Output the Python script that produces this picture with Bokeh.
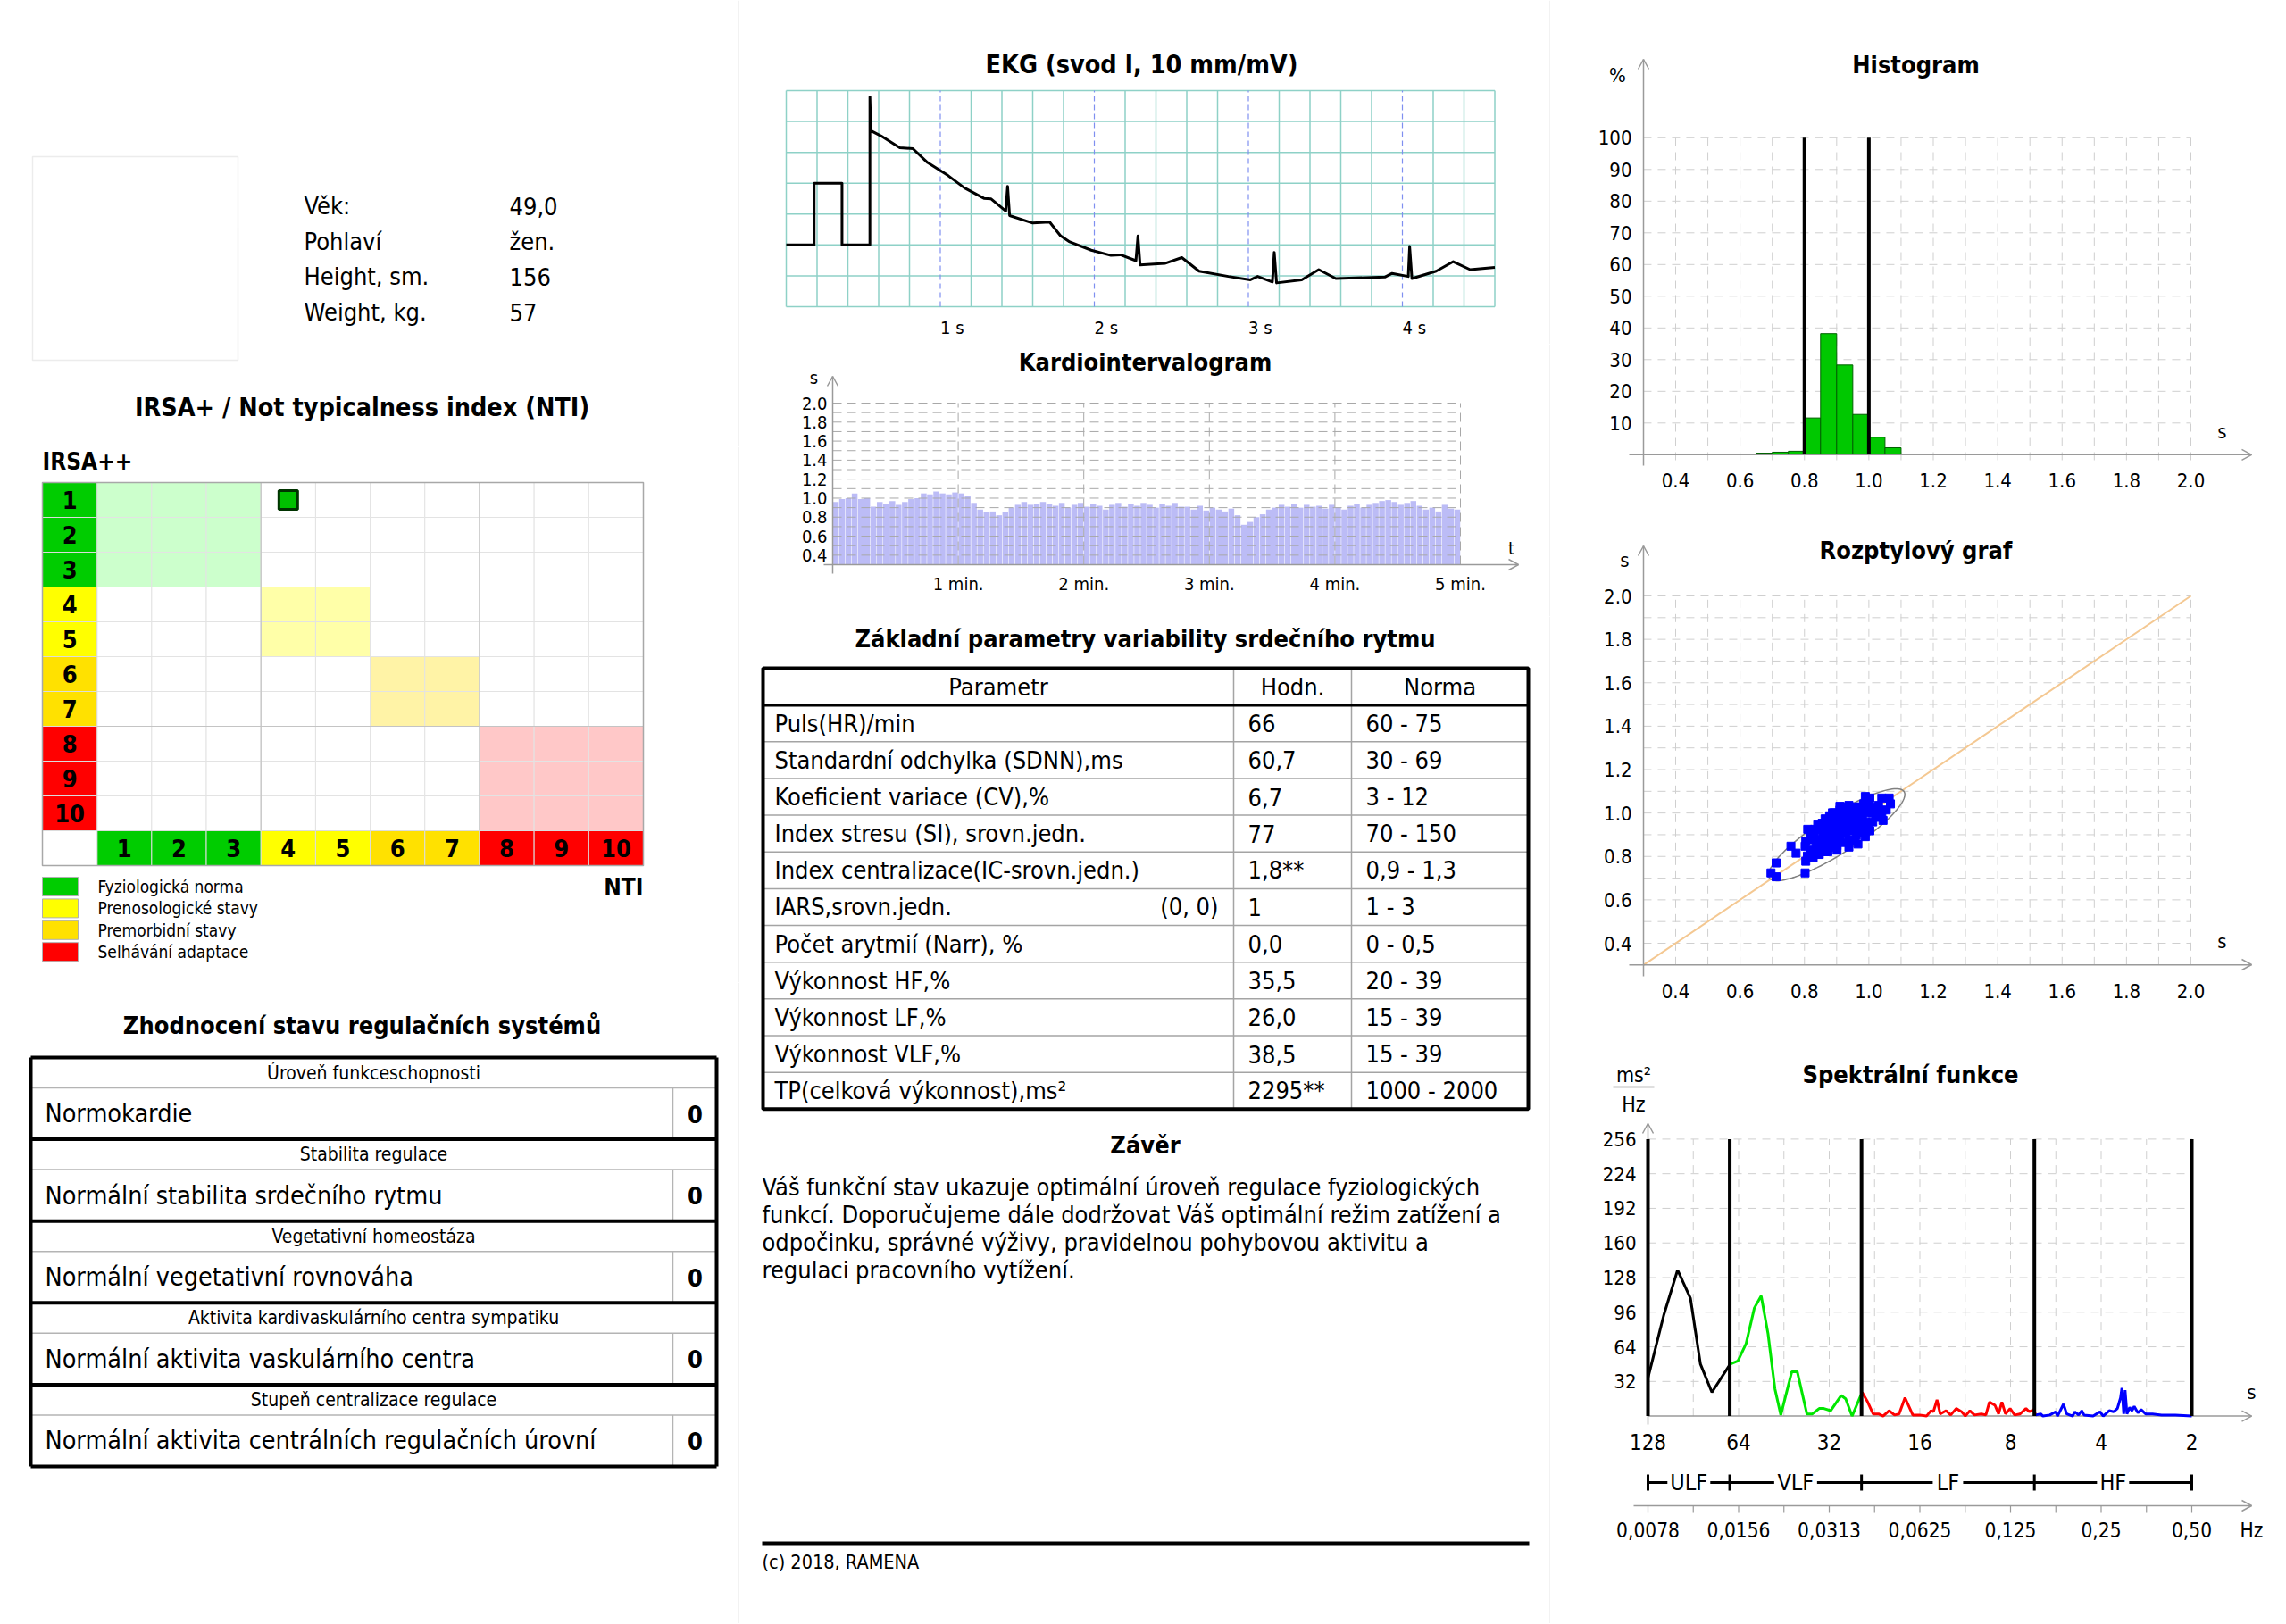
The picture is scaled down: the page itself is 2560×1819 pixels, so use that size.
import numpy as np
from bokeh.plotting import figure
from bokeh.layouts import row, column
from bokeh.models import Range1d
from bokeh.core.properties import value
from bokeh.embed import file_html
from bokeh.resources import INLINE

FONT = "DejaVu Sans Condensed"

# ------------------------------------------------------------------ data
patient_labels = ["Věk:", "Pohlaví", "Height, sm.", "Weight, kg."]
patient_values = ["49,0", "žen.", "156", "57"]

levels = [1, 2, 3, 4, 5, 6, 7, 8, 9, 10]
level_colors = ["#00cc00", "#00cc00", "#00cc00", "#ffff00", "#ffff00",
                "#ffe100", "#ffe100", "#ff0000", "#ff0000", "#ff0000"]
zone_first = [1, 4, 6, 8]
zone_last = [3, 5, 7, 10]
zone_colors = ["#ccffcc", "#ffffa8", "#fff3a6", "#ffc8c8"]
patient_nti = [4]
patient_irsa = [1]
legend_labels = ["Fyziologická norma", "Prenosologické stavy", "Premorbidní stavy", "Selhávání  adaptace"]
legend_colors = ["#00cc00", "#ffff00", "#ffe100", "#ff0000"]

reg_headers = ["Úroveň funkceschopnosti", "Stabilita regulace", "Vegetativní homeostáza",
               "Aktivita kardivaskulárního centra sympatiku", "Stupeň centralizace regulace"]
reg_results = ["Normokardie", "Normální stabilita srdečního rytmu", "Normální vegetativní rovnováha",
               "Normální aktivita vaskulárního centra", "Normální aktivita centrálních regulačních úrovní"]
reg_scores = ["0", "0", "0", "0", "0"]

ekg_time = [0.0, 0.181, 0.181, 0.362, 0.362, 0.543, 0.543, 0.549, 0.616, 0.737, 0.822, 0.917,
            1.05, 1.156, 1.283, 1.33, 1.425, 1.437, 1.45, 1.6, 1.71, 1.78, 1.84, 1.98, 2.108,
            2.17, 2.27, 2.283, 2.297, 2.457, 2.568, 2.68, 2.87, 3.013, 3.06, 3.156, 3.168,
            3.183, 3.346, 3.457, 3.568, 3.886, 3.933, 4.038, 4.047, 4.062, 4.219, 4.33, 4.44, 4.6]
ekg_mm = [2.0, 2.0, 4.0, 4.0, 2.0, 2.0, 6.8, 5.7, 5.53, 5.15, 5.12, 4.67,
          4.25, 3.85, 3.51, 3.49, 3.10, 3.90, 2.95, 2.71, 2.74, 2.3, 2.1, 1.83, 1.66,
          1.68, 1.49, 2.29, 1.35, 1.40, 1.59, 1.15, 0.98, 0.87, 0.98, 0.80, 1.76,
          0.77, 0.87, 1.20, 0.91, 0.96, 1.08, 0.98, 1.95, 0.91, 1.15, 1.46, 1.20, 1.27]

rr_intervals = [0.96, 0.99, 1.00, 1.05, 0.99, 1.00,
                0.91, 0.96, 0.94, 0.97, 0.93, 0.96, 0.99,
                1.00, 1.05, 1.04, 1.07, 1.05, 1.04, 1.06, 1.05, 1.02,
                0.95,
                0.88, 0.85, 0.86, 0.82, 0.85,
                0.90, 0.93, 0.96, 0.93, 0.94, 0.96,
                0.94, 0.92, 0.95, 0.90, 0.93, 0.95, 0.91, 0.94, 0.92, 0.88, 0.93,
                0.95, 0.91, 0.94, 0.92, 0.95, 0.93, 0.90, 0.94, 0.92, 0.95, 0.91,
                0.91, 0.88, 0.92, 0.87, 0.90, 0.88, 0.86, 0.89,
                0.82, 0.72,
                0.75, 0.80, 0.83,
                0.88, 0.90, 0.93, 0.91, 0.94, 0.90, 0.93, 0.91,
                0.92, 0.89, 0.93, 0.90, 0.88, 0.92, 0.94, 0.90, 0.93, 0.95,
                0.97, 0.98, 0.96, 0.93, 0.95, 0.97, 0.92,
                0.88, 0.90, 0.86, 0.93, 0.89, 0.88]
record_minutes = 5

poincare_rr_n = [0.696, 0.712, 0.712, 0.758, 0.774, 0.802, 0.804, 0.809, 0.804, 0.810, 0.827,
                 0.832, 0.846, 0.855, 0.869, 0.878, 0.892, 0.910, 0.929, 0.947, 0.961,
                 0.952, 0.938, 0.920, 0.901, 0.883, 0.864, 0.846, 0.836, 0.859, 0.878,
                 0.896, 0.915, 0.929, 0.910, 0.892, 0.873, 0.855, 0.873, 0.892, 0.910,
                 0.929, 0.947, 0.966, 0.980, 0.994, 0.984, 1.003, 0.970, 0.957, 0.938,
                 0.920, 0.901, 0.883, 0.864, 0.846, 0.827, 0.818, 0.802,
                 0.989, 1.003, 0.998, 1.012, 1.040, 1.063, 1.067, 1.054, 1.040, 1.044,
                 1.030, 1.021, 1.012, 0.989, 0.975,
                 0.864, 0.883, 0.901, 0.920, 0.938, 0.957, 0.910, 0.929, 0.947, 0.961,
                 0.841, 0.855, 0.873, 0.892, 0.910, 0.938, 0.924, 0.970,
                 0.832, 0.818, 0.841, 0.864, 0.887, 0.910, 0.938, 0.961, 0.975, 0.873,
                 0.901, 0.938, 0.966, 0.989, 0.980, 0.998, 1.012, 1.026, 0.984, 0.818, 0.841]
poincare_rr_next = [0.724, 0.706, 0.770, 0.847, 0.815, 0.724, 0.778, 0.802, 0.870, 0.925, 0.829,
                    0.891, 0.932, 0.953, 0.966, 0.987, 1.001, 1.014, 1.028, 1.021, 1.001,
                    0.959, 0.932, 0.905, 0.884, 0.864, 0.850, 0.836, 0.857, 0.911, 0.925,
                    0.939, 0.959, 0.973, 0.980, 0.966, 0.946, 0.877, 0.891, 0.911, 0.925,
                    0.939, 0.946, 0.966, 0.980, 1.001, 0.932, 0.918, 0.925, 0.870, 0.877,
                    0.864, 0.850, 0.843, 0.822, 0.809, 0.795, 0.877, 0.847,
                    1.076, 1.069, 1.035, 1.028, 1.069, 1.069, 1.042, 1.014, 1.001, 0.966,
                    1.035, 0.980, 0.959, 0.959, 0.946,
                    0.898, 0.905, 0.918, 0.932, 0.953, 0.973, 0.953, 0.911, 0.918, 0.898,
                    0.870, 0.843, 0.864, 0.877, 0.891, 0.994, 1.008, 1.028,
                    0.925, 0.911, 0.946, 0.973, 1.001, 1.031, 1.035, 1.028, 1.014, 0.822,
                    0.829, 0.843, 0.857, 0.891, 0.911, 0.946, 1.001, 1.008, 1.042, 0.815, 0.829]

param_names = ["Puls(HR)/min", "Standardní odchylka (SDNN),ms", "Koeficient variace (CV),%",
               "Index stresu (SI), srovn.jedn.", "Index centralizace(IC-srovn.jedn.)",
               "IARS,srovn.jedn.", "Počet arytmií (Narr), %", "Výkonnost HF,%", "Výkonnost LF,%",
               "Výkonnost VLF,%", "TP(celková výkonnost),ms²"]
param_values = ["66", "60,7", "6,7", "77", "1,8**", "1", "0,0", "35,5", "26,0", "38,5", "2295**"]
param_norms = ["60 - 75", "30 - 69", "3 - 12", "70 - 150", "0,9 - 1,3", "1 - 3", "0 - 0,5",
               "20 - 39", "15 - 39", "15 - 39", "1000 - 2000"]
iars_note = "(0, 0)"

conclusion = ["Váš funkční stav ukazuje optimální úroveň regulace fyziologických",
              "funkcí. Doporučujeme dále dodržovat Váš optimální režim zatížení a",
              "odpočinku, správné výživy, pravidelnou pohybovou aktivitu a",
              "regulaci pracovního vytížení."]
footer = "(c) 2018, RAMENA"

hist_left = [0.65, 0.70, 0.75, 0.80, 0.85, 0.90, 0.95, 1.00, 1.05]
hist_pct = [0.5, 0.8, 1.1, 11.6, 38.2, 28.3, 12.7, 5.5, 2.2]
hist_bin = 0.05
hist_norm = [0.8, 1.0]
s_ticks = [0.4, 0.6, 0.8, 1.0, 1.2, 1.4, 1.6, 1.8, 2.0]
pct_ticks = [10, 20, 30, 40, 50, 60, 70, 80, 90, 100]

ellipse_center = 0.90
ellipse_a = 0.29
ellipse_b = 0.075

ulf_f = [0.00781, 0.00883, 0.0098, 0.01081, 0.01167, 0.01274, 0.01465]
ulf_p = [35, 94, 135, 109, 48, 22, 48]
vlf_f = [0.01465, 0.01554, 0.01655, 0.01763, 0.01857, 0.01957, 0.02063, 0.02158, 0.02347,
         0.02447, 0.02634, 0.02747, 0.02894, 0.02998, 0.03158, 0.03422, 0.03543, 0.03721, 0.0402]
vlf_p = [48, 51, 67, 100, 111, 76, 25, 1, 41, 41, 2, 2, 7, 7, 5, 19, 16, 0, 22]
lf_f = [0.0402, 0.04176, 0.04371, 0.04557, 0.04717, 0.04938, 0.05148, 0.05331, 0.05578, 0.0592,
        0.06238, 0.06574, 0.06806, 0.0693, 0.07125, 0.073, 0.07641, 0.07912, 0.08252, 0.08603,
        0.08846, 0.09163, 0.09487, 0.1, 0.1035, 0.1064, 0.111, 0.1141, 0.117, 0.1203,
        0.1246, 0.129, 0.1345, 0.1407, 0.1443, 0.1494, 0.1515]
lf_p = [22, 14, 2, 2, 0, 5, 1, 2, 17, 1, 1, 0, 5, 4, 15, 2, 5, 1, 7, 4,
        0, 5, 1, 2, 1, 13, 10, 2, 13, 2, 7, 1, 2, 7, 4, 6, 1]
hf_f = [0.1515, 0.1574, 0.1602, 0.1688, 0.1766, 0.1791, 0.1874, 0.1921, 0.201, 0.2045,
        0.2103, 0.2155, 0.2193, 0.2352, 0.2477, 0.254, 0.2658, 0.2752, 0.283, 0.29,
        0.293, 0.2971, 0.3002, 0.3045, 0.311, 0.3164, 0.3219, 0.3312, 0.3394, 0.3513,
        0.3703, 0.3971, 0.441, 0.5]
hf_p = [1, 2, 0, 1, 4, 0, 11, 2, 0, 4, 1, 5, 1, 0, 4, 0, 5, 4, 7, 17,
        26, 2, 24, 2, 8, 5, 9, 3, 6, 2, 2, 1, 1, 0]
band_edges = [0.0078125, 0.0146, 0.04, 0.15, 0.5]
band_names = ["ULF", "VLF", "LF", "HF"]
period_s = [128, 64, 32, 16, 8, 4, 2]
freq_labels = ["0,0078", "0,0156", "0,0313", "0,0625", "0,125", "0,25", "0,50"]
spec_ticks = [32, 64, 96, 128, 160, 192, 224, 256]


# ------------------------------------------------------------------ helpers
def make_panel(X0, X1, Y0, Y1, xa=(0, 0, 1, 1), ya=(0, 0, 1, 1), xlog=False, sep=True):
    def mx(P):
        p0, v0, p1, v1 = xa
        if xlog:
            l0, l1 = np.log(v0), np.log(v1)
            return float(np.exp(l0 + (P - p0) * (l1 - l0) / (p1 - p0)))
        return float(v0 + (P - p0) * (v1 - v0) / (p1 - p0))

    def my(P):
        p0, v0, p1, v1 = ya
        return float(v0 + (P - p0) * (v1 - v0) / (p1 - p0))

    p = figure(width=X1 - X0, height=Y1 - Y0,
               x_range=Range1d(mx(X0), mx(X1)), y_range=Range1d(my(Y1), my(Y0)),
               x_axis_type="log" if xlog else "linear",
               x_axis_location=None, y_axis_location=None,
               toolbar_location=None, output_backend="svg", min_border=0)
    p.grid.visible = False
    p.outline_line_color = None
    p.background_fill_color = "white"
    p.border_fill_color = "white"
    if sep:
        p.segment(x0=[mx(X1 - 0.5)], y0=[my(Y0)], x1=[mx(X1 - 0.5)], y1=[my(Y1)],
                  line_color="#e4e4e4", line_width=1)
    return p, mx, my


def T(p, xs, ys, texts, size, bold=False, align="left", color="black", baseline="middle"):
    if not isinstance(texts, (list, tuple)):
        xs, ys, texts = [xs], [ys], [texts]
    p.text(x=[float(v) for v in xs], y=[float(v) for v in ys], text=list(texts),
           text_font=value(FONT), text_font_size=f"{size}px",
           text_font_style="bold" if bold else "normal", text_align=align,
           text_baseline=baseline, text_color=color)


def S(p, x0, y0, x1, y1, color="black", width=1.0, dash="solid"):
    p.segment(x0=[float(v) for v in x0], y0=[float(v) for v in y0],
              x1=[float(v) for v in x1], y1=[float(v) for v in y1],
              line_color=color, line_width=width, line_dash=dash)


def arrow(p, mx, my, X, Y, d, color="#999999"):
    if d == "up":
        xs, ys = [X - 6, X, X + 6], [Y + 11, Y, Y + 11]
    else:
        xs, ys = [X - 11, X, X - 11], [Y - 6, Y, Y + 6]
    p.line(x=[mx(v) for v in xs], y=[my(v) for v in ys], line_color=color, line_width=1.5)


AX = "#9a9a9a"
GRID = "#cfcfcf"
XL, XM, XR, XE = 0, 828, 1736, 2559
YB = 1818

# ------------------------------------------------------------------ left column
pL1, fx, fy = make_panel(XL, XM, 0, 500)
pL1.quad(left=[36], right=[266], top=[175], bottom=[403], fill_color=None,
         line_color="#ececec", line_width=1.5)
rows_y = [230 + 39.7 * i for i in range(len(patient_labels))]
T(pL1, [340] * 4, rows_y, patient_labels, 27)
T(pL1, [570] * 4, rows_y, patient_values, 27)
T(pL1, 405, 456, "IRSA+ / Not typicalness index (NTI)", 28.5, bold=True, align="center")

pL2, fx, fy = make_panel(XL, XM, 500, 1100, xa=(47, -0.5, 720, 10.5), ya=(540, 0.5, 969, 11.5))
cx, cy, cc = [], [], []
for r in levels:
    for c in levels:
        col = "white"
        for a, b, zc in zip(zone_first, zone_last, zone_colors):
            if a <= c <= b and a <= r <= b:
                col = zc
        cx.append(c); cy.append(r); cc.append(col)
pL2.rect(x=cx, y=cy, width=1, height=1, fill_color=cc, line_color="#e3e3e3", line_width=1)
S(pL2, [0.5, 0.5, 3.5, 7.5], [3.5, 7.5, 0.5, 0.5], [10.5, 10.5, 3.5, 7.5], [3.5, 7.5, 10.5, 10.5],
  color="#c4c4c4", width=1.2)
pL2.rect(x=[0] * 10, y=levels, width=1, height=1, fill_color=level_colors, line_color="#dcdcdc")
pL2.rect(x=levels, y=[11] * 10, width=1, height=1, fill_color=level_colors, line_color="#dcdcdc")
pL2.rect(x=[0], y=[11], width=1, height=1, fill_color="white", line_color="#dcdcdc")
pL2.quad(left=[-0.5], right=[10.5], top=[0.5], bottom=[11.5], fill_color=None,
         line_color="#a8a8a8", line_width=1.5)
T(pL2, [0] * 10, levels, [str(v) for v in levels], 27, bold=True, align="center")
T(pL2, levels, [11] * 10, [str(v) for v in levels], 27, bold=True, align="center")
pL2.scatter(x=patient_nti, y=patient_irsa, marker="square", size=21, fill_color="#00c000",
            line_color="#003300", line_width=3)
T(pL2, fx(47), fy(516), "IRSA++", 26, bold=True)
lg_top = [982 + 24.4 * i for i in range(4)]
pL2.quad(left=[fx(47)] * 4, right=[fx(87)] * 4, top=[fy(v) for v in lg_top],
         bottom=[fy(v + 21) for v in lg_top], fill_color=legend_colors, line_color="#b0b0b0")
T(pL2, [fx(109)] * 4, [fy(v + 10.5) for v in lg_top], legend_labels, 19)
T(pL2, fx(720), fy(993), "NTI", 26, bold=True, align="right")

pL3, fx, fy = make_panel(XL, XM, 1100, YB)
T(pL3, 405, 1148, "Zhodnocení stavu regulačních systémů", 27, bold=True, align="center")
tl, tr, t0, sh, hh, vc = 34, 802, 1184, 91.6, 34, 753
for i in range(len(reg_headers)):
    top = t0 + sh * i
    S(pL3, [tl, vc], [top + hh, top + hh], [tr, vc], [top + hh, top + sh], color="#b4b4b4", width=1.5)
tops = [t0 + sh * i for i in range(len(reg_headers) + 1)]
S(pL3, [tl] * len(tops), tops, [tr] * len(tops), tops, color="black", width=4)
S(pL3, [tl, tr], [t0, t0], [tl, tr], [tops[-1], tops[-1]], color="black", width=4)
T(pL3, [418] * 5, [t0 + sh * i + 17 for i in range(5)], reg_headers, 21, align="center")
T(pL3, [50] * 5, [t0 + sh * i + hh + 29 for i in range(5)], reg_results, 28.5)
T(pL3, [778] * 5, [t0 + sh * i + hh + 29 for i in range(5)], reg_scores, 27, bold=True, align="center")

# ------------------------------------------------------------------ middle column
pM1, fx, fy = make_panel(XM, XR, 0, 385, xa=(880, 0.0, 1052.5, 1.0), ya=(343, 0.0, 101, 7.0))
T(pM1, fx(1278), fy(72), "EKG (svod I, 10 mm/mV)", 28.5, bold=True, align="center")
ekg_end = 4.6
teal = "#8ed1c7"
minor_t = [round(0.2 * k, 1) for k in range(24) if k % 5 != 0 or k == 0]
S(pM1, minor_t, [0] * len(minor_t), minor_t, [7] * len(minor_t), color=teal, width=1.5)
hy = list(range(8))
S(pM1, [0] * 8, hy, [ekg_end] * 8, hy, color=teal, width=1.5)
sec = [1, 2, 3, 4]
S(pM1, sec, [0] * 4, sec, [7] * 4, color="#7f8ff0", width=1.2, dash="6 4")
pM1.line(x=ekg_time, y=ekg_mm, line_color="black", line_width=3, line_join="round")
T(pM1, sec, [fy(366)] * 4, [f"{s} s" for s in sec], 20)

pM2, fx, fy = make_panel(XM, XR, 385, 690, xa=(932, 0.0, 1635, 5.0), ya=(632, 0.3, 451, 2.0))
T(pM2, fx(1282), fy(405), "Kardiointervalogram", 27, bold=True, align="center")
step = record_minutes / len(rr_intervals)
rr_x = [step * (i + 0.5) for i in range(len(rr_intervals))]
pM2.vbar(x=rr_x, top=rr_intervals, bottom=0.3, width=step * 0.92, fill_color="#bcbcf6",
         line_color=None)
gy = [round(0.4 + 0.1 * k, 1) for k in range(17)]
S(pM2, [0] * len(gy), gy, [5] * len(gy), gy, color="#a8a8a8", width=1, dash="10 6")
mins = [1, 2, 3, 4, 5]
S(pM2, mins, [0.3] * 5, mins, [2.0] * 5, color="#a8a8a8", width=1, dash="10 6")
S(pM2, [fx(932), fx(922)], [fy(642), fy(632)], [fx(932), fx(1700)], [fy(421), fy(632)], color=AX, width=1.5)
arrow(pM2, fx, fy, 932, 421, "up")
arrow(pM2, fx, fy, 1700, 632, "right")
yl = [0.4, 0.6, 0.8, 1.0, 1.2, 1.4, 1.6, 1.8, 2.0]
T(pM2, [fx(926)] * len(yl), yl, [f"{v:.1f}" for v in yl], 20, align="right")
T(pM2, fx(911), fy(422), "s", 20, align="center")
T(pM2, fx(1692), fy(613), "t", 20, align="center")
T(pM2, mins, [fy(653)] * 5, [f"{m} min." for m in mins], 20, align="center")

pM3, fx, fy = make_panel(XM, XR, 690, YB)
T(pM3, 1282, 715, "Základní parametry variability srdečního rytmu", 27, bold=True, align="center")
tl, tr, tt, rh = 854, 1711, 748, 41.15
nrows = len(param_names) + 1
tb = tt + rh * nrows
c1, c2 = 1381, 1513
ry = [tt + rh * k for k in range(2, nrows)]
S(pM3, [tl] * len(ry), ry, [tr] * len(ry), ry, color="#a4a4a4", width=1.5)
S(pM3, [c1, c2], [tt, tt], [c1, c2], [tb, tb], color="#a4a4a4", width=1.5)
S(pM3, [tl], [tt + rh], [tr], [tt + rh], color="black", width=3.5)
pM3.quad(left=[tl], right=[tr], top=[tt], bottom=[tb], fill_color=None, line_color="black", line_width=4)
T(pM3, [(tl + c1) / 2, (c1 + c2) / 2, (c2 + tr) / 2], [tt + rh / 2] * 3, ["Parametr", "Hodn.", "Norma"], 27, align="center")
cy_rows = [tt + rh * (i + 1) + rh / 2 for i in range(len(param_names))]
T(pM3, [867] * len(param_names), cy_rows, param_names, 27)
T(pM3, [1397] * len(param_names), cy_rows, param_values, 27)
T(pM3, [1529] * len(param_names), cy_rows, param_norms, 27)
T(pM3, 1364, cy_rows[param_names.index("IARS,srovn.jedn.")], iars_note, 27, align="right")
T(pM3, 1282, 1282, "Závěr", 27, bold=True, align="center")
T(pM3, [853] * len(conclusion), [1328.5 + 31 * i for i in range(len(conclusion))], conclusion, 27)
S(pM3, [853], [1728.5], [1712], [1728.5], color="black", width=5)
T(pM3, 853, 1749, footer, 21.5)

# ------------------------------------------------------------------ right column
pR1, fx, fy = make_panel(XR, XE, 0, 570, xa=(1876, 0.4, 2453, 2.0), ya=(508.8, 0, 153.8, 100), sep=False)
T(pR1, fx(2145), fy(72), "Histogram", 27, bold=True, align="center")
S(pR1, [0.3] * 10, pct_ticks, [2.0] * 10, pct_ticks, color=GRID, width=1, dash="9 7")
vx = [round(0.4 + 0.1 * k, 1) for k in range(17)]
S(pR1, vx, [fy(515)] * len(vx), vx, [100] * len(vx), color=GRID, width=1, dash="9 7")
pR1.quad(left=hist_left, right=[v + hist_bin for v in hist_left], bottom=0, top=hist_pct,
         fill_color="#00c800", line_color="#006000", line_width=1)
S(pR1, hist_norm, [0, 0], hist_norm, [100, 100], color="black", width=4)
S(pR1, [fx(1840), fx(1824)], [fy(521), 0], [fx(1840), fx(2521)], [fy(66), 0], color=AX, width=1.5)
arrow(pR1, fx, fy, 1840, 66, "up")
arrow(pR1, fx, fy, 2521, 508.8, "right")
T(pR1, [fx(1827)] * 10, pct_ticks, [str(v) for v in pct_ticks], 22, align="right")
T(pR1, s_ticks, [fy(537)] * len(s_ticks), [f"{v:.1f}" for v in s_ticks], 22, align="center")
T(pR1, fx(1811), fy(84), "%", 22, align="center")
T(pR1, fx(2488), fy(483), "s", 22, align="center")

pR2, fx, fy = make_panel(XR, XE, 570, 1140, xa=(1876, 0.4, 2453, 2.0), ya=(1056, 0.4, 667, 2.0), sep=False)
T(pR2, fx(2145), fy(616), "Rozptylový graf", 27, bold=True, align="center")
S(pR2, [0.3] * len(vx), vx, [2.0] * len(vx), vx, color=GRID, width=1, dash="9 7")
S(pR2, vx, [0.3] * len(vx), vx, [2.0] * len(vx), color=GRID, width=1, dash="9 7")
S(pR2, [0.3], [0.3], [2.0], [2.0], color="#f4c892", width=2)
th = np.linspace(0, 2 * np.pi, 120)
ex = ellipse_center + (ellipse_a * np.cos(th) - ellipse_b * np.sin(th)) / np.sqrt(2)
ey = ellipse_center + (ellipse_a * np.cos(th) + ellipse_b * np.sin(th)) / np.sqrt(2)
pR2.line(x=ex, y=ey, line_color="#808080", line_width=1.5)
pR2.scatter(x=poincare_rr_n, y=poincare_rr_next, marker="square", size=9,
            fill_color="#0000ff", line_color="#0000ff")
S(pR2, [fx(1840), fx(1824)], [fy(1093), 0.3], [fx(1840), fx(2521)], [fy(611), 0.3], color=AX, width=1.5)
arrow(pR2, fx, fy, 1840, 611, "up")
arrow(pR2, fx, fy, 2521, 1080, "right")
T(pR2, [fx(1827)] * len(s_ticks), s_ticks, [f"{v:.1f}" for v in s_ticks], 22, align="right")
T(pR2, s_ticks, [fy(1109)] * len(s_ticks), [f"{v:.1f}" for v in s_ticks], 22, align="center")
T(pR2, fx(1819), fy(627), "s", 22, align="center")
T(pR2, fx(2488), fy(1054), "s", 22, align="center")

pR3, fx, fy = make_panel(XR, XE, 1140, YB, xa=(1845, 1 / 128, 2454, 0.5), ya=(1585.6, 0, 1275.4, 256),
                         xlog=True, sep=False)
T(pR3, fx(2139), fy(1203), "Spektrální funkce", 27, bold=True, align="center")
f0 = band_edges[0]
S(pR3, [f0] * len(spec_ticks), spec_ticks, [0.5] * len(spec_ticks), spec_ticks, color=GRID, width=1, dash="9 7")
half = [f0 * 2 ** (k / 2) for k in range(1, 12)]
S(pR3, half, [0] * len(half), half, [256] * len(half), color=GRID, width=1, dash="9 7")
S(pR3, [fx(1845), f0], [fy(1595), 0], [fx(1845), fx(2521)], [fy(1258), 0], color=AX, width=1.5)
arrow(pR3, fx, fy, 1845, 1258, "up")
arrow(pR3, fx, fy, 2521, 1585.6, "right")
for ff, pp, colr in [(ulf_f, ulf_p, "black"), (vlf_f, vlf_p, "#00e600"), (lf_f, lf_p, "#ff0000"), (hf_f, hf_p, "#0000ff")]:
    pR3.line(x=ff, y=pp, line_color=colr, line_width=3)
S(pR3, band_edges, [0] * 5, band_edges, [256] * 5, color="black", width=4)
T(pR3, [fx(1832)] * len(spec_ticks), spec_ticks, [str(v) for v in spec_ticks], 22, align="right")
per_f = [1 / v for v in period_s]
T(pR3, per_f, [fy(1614)] * len(per_f), [str(v) for v in period_s], 24, align="center")
T(pR3, fx(2521), fy(1559), "s", 22, align="center")
T(pR3, fx(1829), fy(1203), "ms²", 23, align="center")
S(pR3, [fx(1806)], [fy(1217)], [fx(1852)], [fy(1217)], color="#808080", width=1.5)
T(pR3, fx(1829), fy(1236), "Hz", 23, align="center")
yb = fy(1660)
S(pR3, [f0], [yb], [0.5], [yb], color="black", width=3)
S(pR3, band_edges, [fy(1651)] * 5, band_edges, [fy(1669)] * 5, color="black", width=3)
mids = [float(np.sqrt(a * b)) for a, b in zip(band_edges[:-1], band_edges[1:])]
pR3.rect(x=mids, y=[yb] * 4, width=[48, 48, 34, 36], height=26, width_units="screen",
         height_units="screen", fill_color="white", line_color=None)
T(pR3, mids, [yb] * 4, band_names, 25, align="center")
ya2 = fy(1686)
S(pR3, [fx(1829)], [ya2], [fx(2521)], [ya2], color=AX, width=1.5)
arrow(pR3, fx, fy, 2521, 1686, "right")
ticks2 = [f0 * 2 ** (k / 2) for k in range(13)]
S(pR3, ticks2, [ya2] * 13, ticks2, [fy(1694)] * 13, color=AX, width=1.2)
T(pR3, per_f, [fy(1713)] * len(per_f), freq_labels, 22.5, align="center")
T(pR3, fx(2521), fy(1713), "Hz", 22.5, align="center")

layout = row(column(pL1, pL2, pL3), column(pM1, pM2, pM3), column(pR1, pR2, pR3))
open("out.html", "w").write(file_html(layout, INLINE, "HRV report"))
